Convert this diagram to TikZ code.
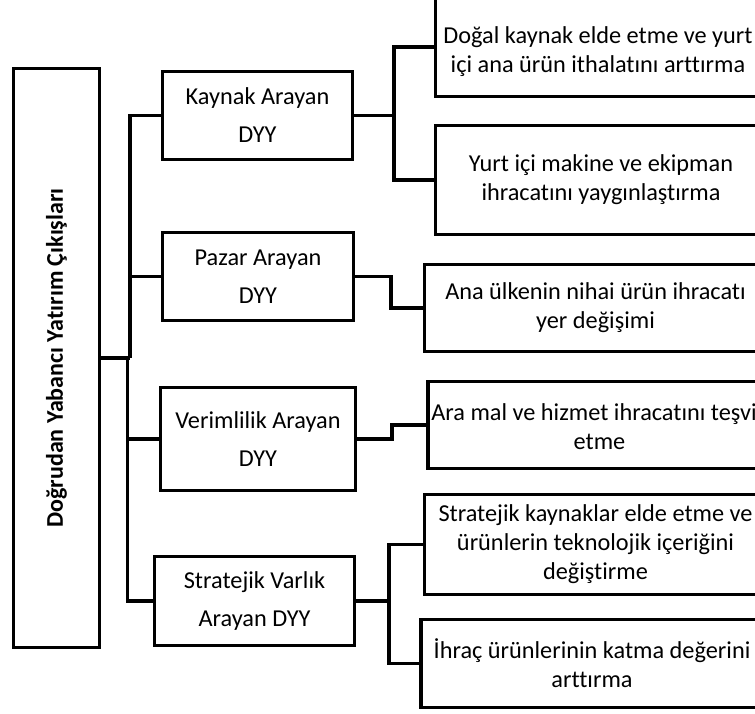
\documentclass[tikz,border=0pt]{standalone}
\usepackage{fontspec}
\setmainfont{Carlito}[Ligatures=CommonOff]
\begin{document}
\begin{tikzpicture}[x=1pt,y=-1pt,
  box/.style={draw=black, line width=3.2pt, rectangle, inner sep=0pt, align=center},
  ltext/.style={font=\fontsize{24.3}{38}\selectfont},
  rtext/.style={font=\fontsize{24.3}{29}\selectfont, align=center},
  conn/.style={draw=black, line width=3.2pt}]
\useasboundingbox (0,0) rectangle (755,713);
\clip (0,0) rectangle (755,713);
% main box
\node[box, minimum width=86pt, minimum height=579pt] (main) at (56.5,358) {};
\node[rotate=90, font=\fontsize{24}{28}\selectfont\bfseries] (maint) at (main.center) {Doğrudan Yabancı Yatırım Çıkışları};
% left boxes
\node[box, ltext, minimum width=190pt, minimum height=88pt] (k) at (257.5,115.5) {Kaynak Arayan\\DYY};
\node[box, ltext, minimum width=191pt, minimum height=88pt] (p) at (258,276.5) {Pazar Arayan\\DYY};
\node[box, ltext, minimum width=195pt, minimum height=103pt] (v) at (258,439) {Verimlilik Arayan\\DYY};
\node[box, ltext, minimum width=200pt, minimum height=89pt] (s) at (254.5,601) {Stratejik Varlık\\Arayan DYY};
% right boxes
\node[box, minimum width=331pt, minimum height=109pt] (b1) at (601,42) {};
\node[rtext] (t1) at (598,51.5) {Doğal kaynak elde etme ve yurt\\içi ana ürün ithalatını arttırma};
\node[box, rtext, minimum width=331pt, minimum height=109pt] (b2) at (601,180) {Yurt içi makine ve ekipman\\ihracatını yaygınlaştırma};
\node[box, rtext, minimum width=342pt, minimum height=87pt] (b3) at (595.5,308) {Ana ülkenin nihai ürün ihracatı\\yer değişimi};
\node[box, minimum width=348pt, minimum height=87pt] (b4) at (602,425) {};
\node[rtext] (t4) at (599.5,427) {Ara mal ve hizmet ihracatını teşvik\\etme};
\node[box, rtext, minimum width=342pt, minimum height=100pt] (b5) at (595.5,544.5) {Stratejik kaynaklar elde etme ve\\ürünlerin teknolojik içeriğini\\değiştirme};
\node[box, rtext, minimum width=342pt, minimum height=88pt] (b6) at (592,663.5) {İhraç ürünlerinin katma değerini\\arttırma};
% junction coordinates
\coordinate (j) at (130,358);
\coordinate (j2) at (127.5,358);
\coordinate (kj) at (394,115.5);
\coordinate (pj) at (391,276.5);
\coordinate (vj) at (392,439);
\coordinate (sj) at (389,601);
% connectors
\draw[conn] (main.east) -- (j);
\draw[conn] (j) |- (k.west);
\draw[conn] (j) |- (p.west);
\draw[conn] (j2) |- (v.west);
\draw[conn] (j2) |- (s.west);
\draw[conn] (k.east) -- (kj);
\draw[conn] (kj) |- ([yshift=-5pt]b1.west);
\draw[conn] (kj) |- (b2.west);
\draw[conn] (p.east) -- (pj) |- (b3.west);
\draw[conn] (v.east) -- (vj) |- (b4.west);
\draw[conn] (s.east) -- (sj);
\draw[conn] (sj) |- (b5.west);
\draw[conn] (sj) |- (b6.west);
\end{tikzpicture}
\end{document}
